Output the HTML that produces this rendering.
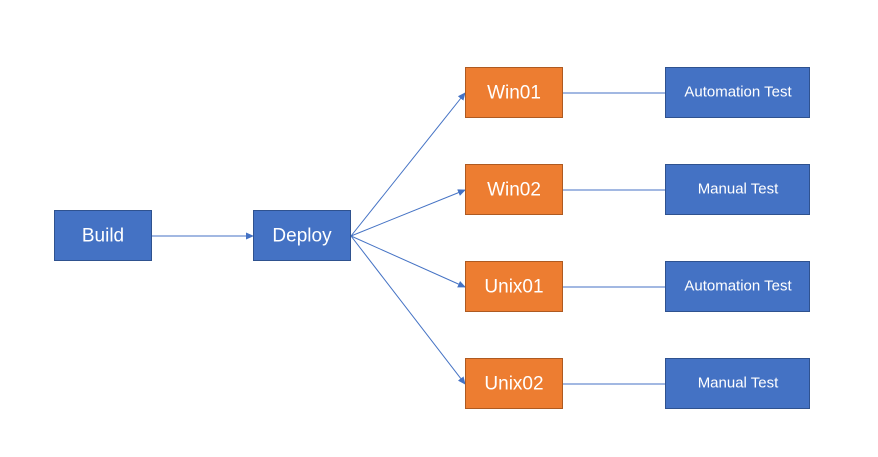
<!DOCTYPE html>
<html><head><style>
body{margin:0;background:#fff;}
svg text{font-family:"Liberation Sans",sans-serif;fill:#fff;text-anchor:middle;dominant-baseline:central;}
</style></head><body>
<svg width="878" height="452" xmlns="http://www.w3.org/2000/svg">
<defs><marker id="a" markerWidth="8" markerHeight="8" refX="7" refY="4" orient="auto" markerUnits="userSpaceOnUse"><path d="M0,0.5 L8,4 L0,7.5z" fill="#4472c4"/></marker></defs>
<g stroke="#4472c4" stroke-width="1" fill="none">
<line x1="152" y1="236" x2="253" y2="236" marker-end="url(#a)"/>
<line x1="351" y1="236" x2="465" y2="93" marker-end="url(#a)"/>
<line x1="351" y1="236" x2="465" y2="190" marker-end="url(#a)"/>
<line x1="351" y1="236" x2="465" y2="287" marker-end="url(#a)"/>
<line x1="351" y1="236" x2="465" y2="384" marker-end="url(#a)"/>
<line x1="563" y1="93" x2="665" y2="93"/>
<line x1="563" y1="190" x2="665" y2="190"/>
<line x1="563" y1="287" x2="665" y2="287"/>
<line x1="563" y1="384" x2="665" y2="384"/>
</g>
<g stroke="#2f528f" stroke-width="1" fill="#4472c4">
<rect x="54.5" y="210.5" width="97" height="50"/>
<rect x="253.5" y="210.5" width="97" height="50"/>
<rect x="665.5" y="67.5" width="144" height="50"/>
<rect x="665.5" y="164.5" width="144" height="50"/>
<rect x="665.5" y="261.5" width="144" height="50"/>
<rect x="665.5" y="358.5" width="144" height="50"/>
</g>
<g stroke="#ae5a21" stroke-width="1" fill="#ed7d31">
<rect x="465.5" y="67.5" width="97" height="50"/>
<rect x="465.5" y="164.5" width="97" height="50"/>
<rect x="465.5" y="261.5" width="97" height="50"/>
<rect x="465.5" y="358.5" width="97" height="50"/>
</g>
<g font-size="19">
<text x="103" y="236">Build</text>
<text x="302" y="236">Deploy</text>
<text x="514" y="93">Win01</text>
<text x="514" y="190">Win02</text>
<text x="514" y="287">Unix01</text>
<text x="514" y="384">Unix02</text>
</g>
<g font-size="15">
<text x="738" y="92">Automation Test</text>
<text x="738" y="189">Manual Test</text>
<text x="738" y="286">Automation Test</text>
<text x="738" y="383">Manual Test</text>
</g>
</svg>
</body></html>
